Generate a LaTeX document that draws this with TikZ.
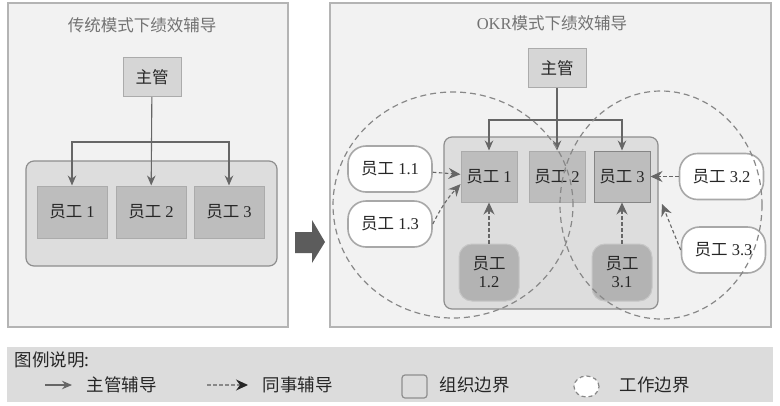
\documentclass[tikz,border=0pt]{standalone}
\usepackage{fontspec}
\setmainfont{Liberation Serif}
\newfontfamily\cjk{Noto Sans CJK SC}
\usetikzlibrary{arrows.meta}
\definecolor{panelfill}{HTML}{F2F2F2}
\definecolor{panelline}{HTML}{B4B4B4}
\definecolor{orgfill}{HTML}{DDDDDD}
\definecolor{orgline}{HTML}{8E8E8E}
\definecolor{bossfill}{HTML}{D6D6D6}
\definecolor{bossline}{HTML}{ABABAB}
\definecolor{empfill}{HTML}{BDBDBD}
\definecolor{empline}{HTML}{ABABAB}
\definecolor{subfill}{HTML}{B3B3B3}
\definecolor{subline}{HTML}{C6C6C6}
\definecolor{mateline}{HTML}{A8A8A8}
\definecolor{arrowc}{HTML}{666666}
\definecolor{workc}{HTML}{888888}
\definecolor{legfill}{HTML}{DCDCDC}
\definecolor{titlec}{HTML}{727272}
\definecolor{ink}{HTML}{262626}
\newcommand\nodefont{\fontsize{16.5}{18}\selectfont}
\newcommand\titlefont{\fontsize{16.5}{19}\selectfont}
\newcommand\legendfont{\fontsize{17.5}{20}\selectfont}
\newcommand\yg[1]{{\cjk 员工}\ #1}
\tikzset{
  >={Stealth[length=10pt,width=8.5pt]},
  panel/.style={draw=panelline,fill=panelfill,line width=1.2pt},
  org/.style={draw=orgline,fill=orgfill,line width=1.2pt,rounded corners=8pt},
  boss/.style={draw=bossline,fill=bossfill,line width=1pt,minimum width=58pt,
    minimum height=39pt,font=\nodefont,text=ink},
  emp/.style={draw=#1,fill=empfill,line width=1pt,minimum width=56pt,
    minimum height=51pt,font=\nodefont,text=ink,inner sep=1pt},
  emp/.default=empline,
  mate/.style={draw=mateline,fill=white,line width=1.6pt,rounded corners=18pt,
    minimum width=84pt,minimum height=46pt,font=\nodefont,text=ink},
  sub/.style={draw=subline,fill=subfill,line width=1pt,rounded corners=13pt,
    minimum width=60pt,minimum height=57pt,align=center,font=\nodefont,text=ink},
  lead/.style={->,draw=arrowc,line width=1.1pt},
  peer/.style={-{Stealth[length=12pt,width=11pt,inset=4pt,color=#1]},draw=arrowc,
    line width=1.1pt,dash pattern=on 3.5pt off 2.5pt},
  peer/.default=arrowc,
  work/.style={draw=workc,line width=1.2pt,dash pattern=on 6pt off 4pt},
  title/.style={font=\titlefont,text=titlec},
  legend/.style={font=\legendfont,text=ink,anchor=west},
}
\begin{document}
\begin{tikzpicture}[x=1pt,y=-1pt]
  \useasboundingbox (0,0) rectangle (780,405);
  \fill[white] (0,0) rectangle (780,405);

  % traditional coaching
  \draw[panel] (8,3) rectangle (288,327);
  \node[title] (titleL) at (142,25) {\cjk 传统模式下绩效辅导};
  \node[boss] (bossL) at (152,77) {\cjk 主管};
  \node[org,minimum width=251pt,minimum height=105pt] (orgL) at (151.5,213.5) {};
  \foreach \i/\x in {1/72,2/151,3/229}
    \node[emp,minimum width=70pt,minimum height=52pt] (e\i L) at (\x,212) {\yg{\i}};
  \coordinate (barL) at (152,142);
  \draw[lead] (bossL) -- (e2L);
  \draw[lead] (barL) -| (e1L);
  \draw[lead] (barL) -| (e3L);

  \fill[arrowc!90!black] (295,232) -- (312,232) -- (312,220) -- (325,242)
    -- (312,263) -- (312,253) -- (295,253) -- cycle;

  % OKR coaching
  \draw[panel] (330,3) rectangle (771,327);
  \node[title] (titleR) at (552,23) {OKR{\cjk 模式下绩效辅导}};
  \node[boss] (bossR) at (557,68) {\cjk 主管};
  \node[org,minimum width=214pt,minimum height=172pt] (orgR) at (551,223) {};
  \node[emp] (e1R) at (489,176.5) {\yg{1}};
  \node[emp] (e2R) at (557,176.5) {\yg{2}};
  \node[emp=arrowc!80] (e3R) at (622,176.5) {\yg{3}};
  \coordinate (barR) at (557,120);
  \draw[lead] (bossR) -- (e2R);
  \draw[lead] (barR) -| (e1R);
  \draw[lead] (barR) -| (e3R);

  \node[mate] (m11) at (390,169) {\yg{1.1}};
  \node[mate] (m13) at (390,224) {\yg{1.3}};
  \node[mate] (m32) at (721.5,176.5) {\yg{3.2}};
  \node[mate] (m33) at (723.5,250) {\yg{3.3}};
  \node[sub] (s12) at (489,272.5) {{\cjk 员工}\\1.2};
  \node[sub] (s31) at (622,272.5) {{\cjk 员工}\\3.1};
  \coordinate (c33) at (662,204);

  \draw[peer] (m11) -- (e1R);
  \draw[peer] (m13.east) to[bend left=8] (e1R.195);
  \draw[peer] (s12) -- (e1R);
  \draw[peer] (s31) -- (e3R);
  \draw[peer] (m32) -- (e3R);
  \draw[peer] (m33.west) -- (c33);

  \draw[work] (453,205) ellipse [x radius=120pt,y radius=113pt];
  \draw[work] (661,205) ellipse [x radius=101pt,y radius=114pt];

  % legend
  \fill[legfill] (7,347) rectangle (773,402);
  \node[legend] (lgd) at (11,360) {\cjk 图例说明:};
  \coordinate (la) at (45,385);
  \coordinate (lb) at (72,385);
  \coordinate (lc) at (207,385);
  \coordinate (ld) at (248,385);
  \draw[lead] (la) -- (lb);
  \draw[peer=ink,draw=workc] (lc) -- (ld);
  \node[legend] (lgLead) at (83,385) {\cjk 主管辅导};
  \node[legend] (lgPeer) at (259,385) {\cjk 同事辅导};
  \draw[draw=orgline,fill=legfill,line width=1.2pt,rounded corners=3pt]
    (402,375) rectangle (427,398);
  \node[legend] (lgOrg) at (436,385) {\cjk 组织边界};
  \draw[draw=workc,fill=white,line width=1.2pt,dash pattern=on 4pt off 3pt]
    (586.5,386.5) ellipse [x radius=12.5pt,y radius=10.5pt];
  \node[legend] (lgWork) at (616,385) {\cjk 工作边界};
\end{tikzpicture}
\end{document}
